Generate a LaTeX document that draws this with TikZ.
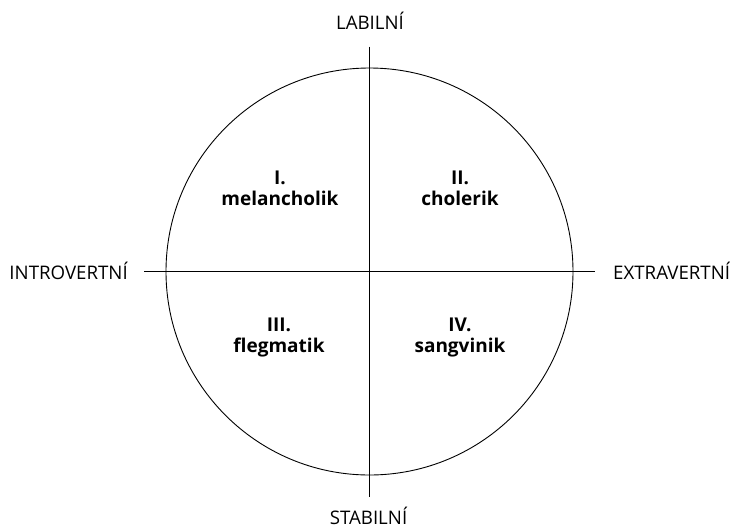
\documentclass[tikz,border=0pt]{standalone}
\usepackage{fontspec}
\setmainfont{Open Sans}
\usetikzlibrary{positioning}
\tikzset{
  osa/.style={line width=0.9pt},
  pol/.style={font=\fontsize{18.7}{22}\selectfont, inner sep=0pt},
  typ/.style={font=\bfseries\fontsize{19}{21}\selectfont, align=center, inner sep=0pt, anchor=base},
}

\begin{document}
\begin{tikzpicture}[x=1pt, y=1pt]
	\useasboundingbox (-369.5,-256.5) rectangle (365.5,271.5);
	% circle and axes
	\node[shape=circle, draw, line width=0.9pt, minimum size=407pt, inner sep=0pt] (kruh) at (0, 0){};
	\coordinate (sever) at (0, 225);
	\coordinate (jih) at (0, -225);
	\coordinate (zapad) at (-225, 0);
	\coordinate (vychod) at (225, 0);
	\draw[osa] (sever) -- (jih);
	\draw[osa] (zapad) -- (vychod);
	% poles
	\node[pol, anchor=base] (labil) at (0.5, 242.5){LABILNÍ};
	\node[pol, anchor=base] (stabil) at (-1, -252.8){STABILNÍ};
	\node[pol, anchor=base east] (intro) at (-241.5, -7.5){INTROVERTNÍ};
	\node[pol, anchor=base west] (extra) at (243.5, -7.5){EXTRAVERTNÍ};
	% temperaments
	\node[typ] (melancholik) at (-89.5, 65.8){I.\\melancholik};
	\node[typ] (cholerik) at (90.5, 65.8){II.\\cholerik};
	\node[typ] (flegmatik) at (-90.5, -80.5){III.\\flegmatik};
	\node[typ] (sangvinik) at (90.5, -80.5){IV.\\sangvinik};
\end{tikzpicture}
\end{document}
